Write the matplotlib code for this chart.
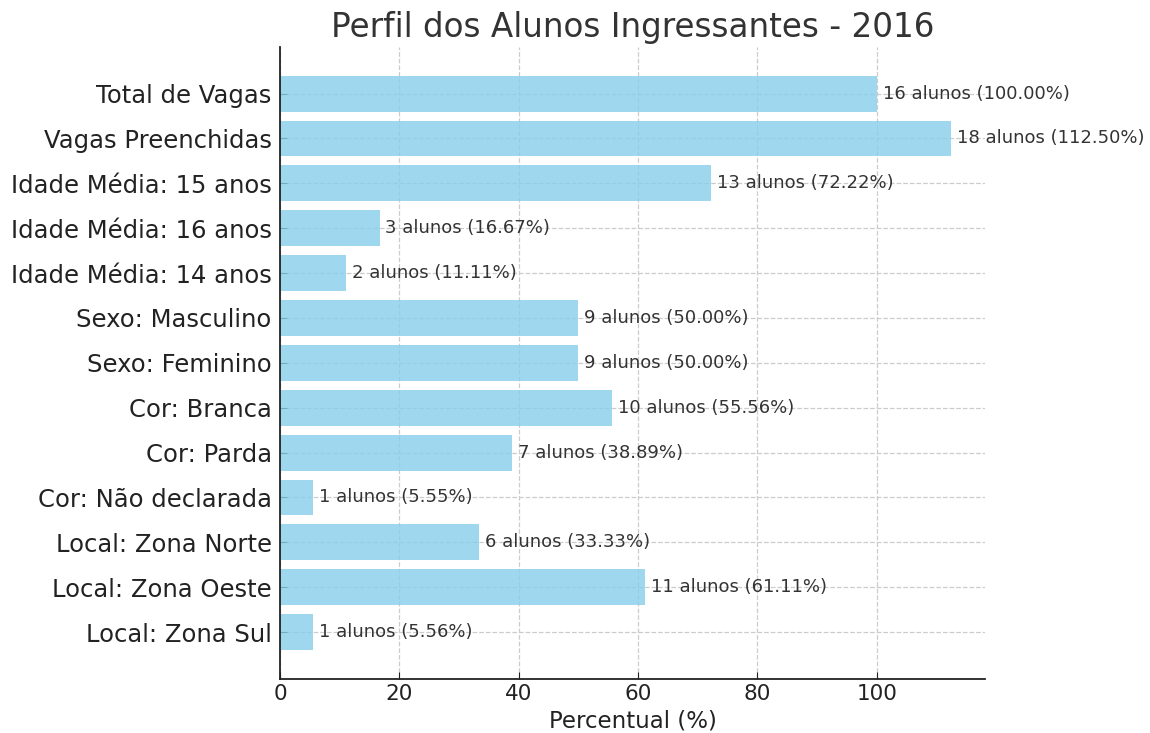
import matplotlib
matplotlib.use("Agg")
import matplotlib.pyplot as plt

categorias = ["Total de Vagas", "Vagas Preenchidas", "Idade Média: 15 anos",
              "Idade Média: 16 anos", "Idade Média: 14 anos", "Sexo: Masculino",
              "Sexo: Feminino", "Cor: Branca", "Cor: Parda", "Cor: Não declarada",
              "Local: Zona Norte", "Local: Zona Oeste", "Local: Zona Sul"]
alunos = [16, 18, 13, 3, 2, 9, 9, 10, 7, 1, 6, 11, 1]
percentuais = [100.00, 112.50, 72.22, 16.67, 11.11, 50.00, 50.00,
               55.56, 38.89, 5.55, 33.33, 61.11, 5.56]

plt.rcParams['font.family'] = 'DejaVu Sans'
fig, ax = plt.subplots(figsize=(11.5, 7.33), dpi=100)
fig.subplots_adjust(left=0.2435, right=0.8565, top=0.936, bottom=0.074)

ax.barh(categorias, percentuais, color='skyblue', alpha=0.8, height=0.8)
ax.invert_yaxis()

# rótulos ao lado das barras
for i, (n, p) in enumerate(zip(alunos, percentuais)):
    ax.text(p + 1, i, f"{n} alunos ({p:.2f}%)", va='center', ha='left',
            fontsize=13, color='#333333')

ax.set_title('Perfil dos Alunos Ingressantes - 2016', fontsize=23.5, color='#333333', pad=7)
ax.set_xlabel('Percentual (%)', fontsize=16.5, color='#222222', labelpad=4)
ax.tick_params(axis='y', labelsize=17.5, direction='in', length=5, pad=6, colors='#222222')
ax.tick_params(axis='x', labelsize=15.5, direction='in', length=5, colors='#222222')
ax.grid(True, linestyle='--', color='#cccccc', linewidth=0.9)
ax.set_axisbelow(True)
ax.spines['top'].set_visible(False)
ax.spines['right'].set_visible(False)
for s in ('left', 'bottom'):
    ax.spines[s].set_color('#222222')
    ax.spines[s].set_linewidth(1.3)

plt.savefig('out.png')
